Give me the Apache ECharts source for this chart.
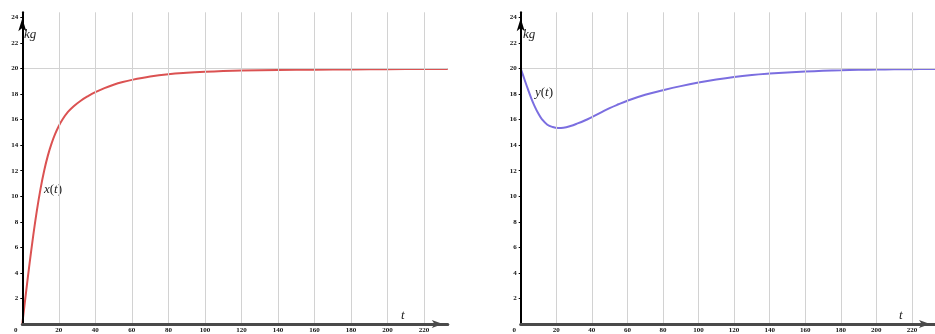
<!DOCTYPE html>
<html>
<head>
<meta charset="UTF-8">
<title></title>
<script src="https://cdn.jsdelivr.net/npm/echarts@6/dist/echarts.min.js"></script>
<style>
	html, body { margin: 0; padding: 0; background: #fff; }
	#main { width: 935px; height: 334px; }
</style>
</head>
<body>
<div id="main"></div>
<script type="text/javascript">
	// x(t)
	var tX = [0, 2, 4, 6, 8, 10, 12, 14, 16, 18, 20, 22, 25, 28, 32, 36, 40, 45, 50, 55, 60, 70, 80, 90, 100, 110, 120, 140, 160, 180, 200, 220, 233];
	var xVals = [0, 2.42, 4.76, 6.94, 8.9, 10.6, 12.02, 13.18, 14.12, 14.88, 15.5, 16.01, 16.6, 17.03, 17.48, 17.84, 18.15, 18.47, 18.73, 18.94, 19.11, 19.37, 19.55, 19.66, 19.74, 19.8, 19.84, 19.88, 19.91, 19.93, 19.95, 19.96, 19.97];
	// y(t)
	var tY = [0, 2, 4, 6, 8, 10, 12, 15, 18, 21, 24, 28, 32, 36, 40, 45, 50, 55, 60, 70, 80, 90, 100, 110, 120, 130, 140, 150, 160, 170, 180, 190, 200, 210, 220, 233];
	var yVals = [20, 19.2, 18.4, 17.65, 17.0, 16.45, 16.02, 15.6, 15.42, 15.35, 15.37, 15.5, 15.7, 15.93, 16.2, 16.55, 16.9, 17.2, 17.48, 17.95, 18.3, 18.62, 18.9, 19.14, 19.34, 19.49, 19.6, 19.69, 19.76, 19.82, 19.86, 19.9, 19.92, 19.94, 19.95, 19.97];

	var xTicks = [0, 20, 40, 60, 80, 100, 120, 140, 160, 180, 200, 220];
	var yTicks = [2, 4, 6, 8, 10, 12, 14, 16, 18, 20, 22, 24];
	var vGrid = [20, 40, 60, 80, 100, 120, 140, 160, 180, 200, 220];
	var hGrid = [20];

	var chart = echarts.init(document.getElementById('main'));

	var tickFont = {
		fontSize: 7,
		fontWeight: 'bold',
		fontFamily: 'Liberation Serif',
		color: '#111'
	};

	function makeX(idx) {
		return {
			gridIndex: idx,
			type: 'value',
			min: 0,
			max: 233,
			z: 5,
			axisLine: {
				show: true,
				onZero: false,
				symbol: ['none', 'arrow'],
				symbolSize: [6, 11],
				symbolOffset: [0, -5],
				lineStyle: { color: '#4a4a4a', width: 3 }
			},
			axisTick: { show: false },
			splitLine: { show: false },
			axisLabel: Object.assign({
				customValues: xTicks,
				margin: 3,
				formatter: function(v) {
					return v === 0 ? '{z|0}' : String(v);
				},
				rich: {
					z: { fontSize: 7, fontWeight: 'bold', fontFamily: 'Liberation Serif', color: '#111', padding: [0, 13, 0, 0] }
				}
			}, tickFont)
		};
	}

	function makeY(idx) {
		return {
			gridIndex: idx,
			type: 'value',
			min: 0,
			max: 24.4,
			z: 5,
			axisLine: {
				show: true,
				onZero: false,
				symbol: ['none', 'arrow'],
				symbolSize: [6, 13],
				symbolOffset: [0, -6],
				lineStyle: { color: '#000', width: 2 }
			},
			axisTick: {
				show: true,
				customValues: yTicks,
				length: 2,
				lineStyle: { color: '#000', width: 1 }
			},
			splitLine: { show: false },
			axisLabel: Object.assign({
				customValues: yTicks,
				margin: 4
			}, tickFont)
		};
	}

	function gridSeries(idx) {
		return {
			type: 'line',
			xAxisIndex: idx,
			yAxisIndex: idx,
			data: [],
			z: 1,
			silent: true,
			markLine: {
				silent: true,
				symbol: 'none',
				label: { show: false },
				lineStyle: { color: '#d2d2d2', width: 1, type: 'solid' },
				data: vGrid.map(function(v) { return { xAxis: v }; })
					.concat(hGrid.map(function(v) { return { yAxis: v }; }))
			}
		};
	}

	function pairs(ts, vs) {
		return ts.map(function(t, i) { return [t, vs[i]]; });
	}

	var math = {
		i: { fontStyle: 'italic', fontFamily: 'Liberation Serif', fontSize: 13, fill: '#222' },
		n: { fontFamily: 'Liberation Serif', fontSize: 13, fill: '#222' }
	};

	function mathText(x, y, text) {
		return {
			type: 'text',
			x: x,
			y: y,
			style: {
				text: text,
				rich: math,
				verticalAlign: 'middle',
				fill: '#222'
			}
		};
	}

	var option = {
		animation: false,
		grid: [
			{ left: 22.3, top: 12.3, width: 425.5, height: 313.7 },
			{ left: 520.7, top: 12.3, width: 425.5, height: 313.7 }
		],
		xAxis: [makeX(0), makeX(1)],
		yAxis: [makeY(0), makeY(1)],
		series: [
			gridSeries(0),
			gridSeries(1),
			{
				name: 'x(t)',
				type: 'line',
				xAxisIndex: 0,
				yAxisIndex: 0,
				z: 3,
				smooth: 0.4,
				showSymbol: false,
				lineStyle: { color: '#db5252', width: 2 },
				data: pairs(tX, xVals)
			},
			{
				name: 'y(t)',
				type: 'line',
				xAxisIndex: 1,
				yAxisIndex: 1,
				z: 3,
				smooth: 0.4,
				showSymbol: false,
				lineStyle: { color: '#7b6ee0', width: 2 },
				data: pairs(tY, yVals)
			}
		],
		graphic: [
			mathText(24, 35, '{i|kg}'),
			mathText(523, 35, '{i|kg}'),
			mathText(44, 190, '{i|x}{n|(}{i|t}{n|)}'),
			mathText(535, 93, '{i|y}{n|(}{i|t}{n|)}'),
			mathText(401, 316, '{i|t}'),
			mathText(899, 316, '{i|t}')
		]
	};

	chart.setOption(option);
</script>
</body>
</html>
